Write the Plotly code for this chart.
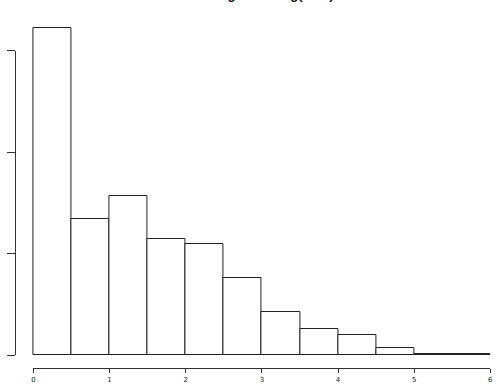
import plotly.graph_objects as go

# Histogram of log(LOS): bin edges every 0.5 from 0 to 6
bin_starts = [0.0, 0.5, 1.0, 1.5, 2.0, 2.5, 3.0, 3.5, 4.0, 4.5, 5.0, 5.5]
counts = [1613, 670, 785, 571, 549, 380, 213, 127, 97, 36, 6, 3]
bin_width = 0.5
x_ticks = [0, 1, 2, 3, 4, 5, 6]
y_ticks = [0, 500, 1000, 1500]
title_text = "Histogram of log(LOS)"

W, H = 499, 389
X0, X6 = 31.7, 493.3          # pixel positions of x=0 and x=6
PPU = (X6 - X0) / 6.0          # pixels per x unit
PAD = 3.0                      # extra pixels so bar edges are not clipped

def px_x(p):
    return p / W

def px_y(p):
    return 1 - p / H

fig = go.Figure()
fig.add_trace(go.Bar(
    x=[s + bin_width / 2 for s in bin_starts],
    y=counts,
    width=bin_width,
    marker=dict(color="white", line=dict(color="#222222", width=1)),
    showlegend=False,
    hoverinfo="skip",
))
# invisible trace to bring in the R-style axes
fig.add_trace(go.Scatter(x=[None], y=[None], xaxis="x2", yaxis="y2",
                         showlegend=False, hoverinfo="skip"))

fig.update_layout(
    width=W, height=H,
    margin=dict(l=0, r=0, t=0, b=0),
    paper_bgcolor="white", plot_bgcolor="rgba(0,0,0,0)",
    bargap=0,
    xaxis=dict(
        domain=[px_x(X0 - PAD), px_x(X6 + PAD)],
        range=[-PAD / PPU, 6 + PAD / PPU],
        visible=False, showgrid=False, zeroline=False, fixedrange=True,
        anchor="y",
    ),
    yaxis=dict(
        domain=[px_y(368.3), px_y(18)],
        range=[-(368.3 - 355) * 500 / 101.5, (355 - 18) * 500 / 101.5],
        visible=False, showgrid=False, zeroline=False, fixedrange=True,
        anchor="x",
    ),
    xaxis2=dict(
        domain=[px_x(X0), px_x(X6)],
        range=[0, 6],
        anchor="free", position=px_y(368.3),
        tickvals=x_ticks,
        ticktext=[str(v) for v in x_ticks],
        showline=True, linecolor="#333333", linewidth=1,
        ticks="outside", ticklen=4, tickcolor="#333333", tickwidth=1,
        showgrid=False, zeroline=False,
        tickfont=dict(family="DejaVu Sans", size=7, color="#222222"),
        fixedrange=True,
    ),
    yaxis2=dict(
        domain=[px_y(355), px_y(50.7)],
        range=[0, 1500],
        anchor="free", position=px_x(13),
        tickvals=y_ticks,
        showticklabels=False,
        showline=True, linecolor="#333333", linewidth=1,
        ticks="outside", ticklen=8, tickcolor="#333333", tickwidth=1,
        showgrid=False, zeroline=False, fixedrange=True,
    ),
    annotations=[dict(
        text="<b>" + title_text + "</b>",
        xref="paper", yref="paper",
        x=px_x(265), y=px_y(-5), xanchor="center", yanchor="middle",
        showarrow=False,
        font=dict(family="Liberation Sans", size=13, color="#111111"),
    )],
)

fig.write_html("out.html")
